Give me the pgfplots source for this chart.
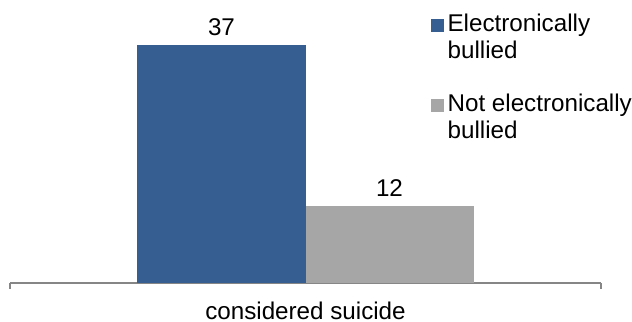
\documentclass[border=0pt]{standalone}
\usepackage{pgfplots}
\pgfplotsset{compat=1.18}
\usepackage{fontspec}
\setmainfont{Liberation Sans}
\definecolor{cblue}{HTML}{365E91}
\definecolor{cgray}{HTML}{A6A6A6}
\definecolor{axgray}{HTML}{868686}
\begin{document}
\begin{tikzpicture}
\begin{axis}[
  scale only axis,
  width=295.5pt, height=141.5pt,
  xmin=-1, xmax=1, ymin=0, ymax=44,
  ybar=0pt, bar width=84pt,
  axis x line*=bottom,
  axis y line=none,
  x axis line style={draw=axgray, line width=0.8pt},
  xtick={-1,1}, xticklabels={},
  major tick length=3pt, tick align=outside,
  xtick style={draw=axgray, line width=0.8pt},
  extra x ticks={0},
  extra x tick labels={considered suicide},
  extra x tick style={major tick length=0pt, tick style={draw=none}},
  xticklabel style={font=\fontsize{12.1}{13.5}\selectfont, yshift=-6pt},
  nodes near coords,
  every node near coord/.append style={font=\fontsize{12.1}{13.5}\selectfont, black, yshift=1pt},
  /pgf/number format/assume math mode=true,
  legend style={at={(rel axis cs:0.711,1)}, anchor=north west, yshift=-5pt, draw=none, fill=none,
    font=\fontsize{12.1}{13.5}\selectfont, cells={align=left, anchor=west},
    row sep=12pt, inner sep=0pt},
  legend image code/.code={\fill[#1] (0pt,3pt) rectangle (6.5pt,9.5pt);},
  clip=false,
]
\addplot[fill=cblue, draw=none] coordinates {(0,37)};
\addplot[fill=cgray, draw=none] coordinates {(0,12)};
\legend{Electronically\\bullied, Not electronically\\bullied}
\coordinate (bl) at (rel axis cs:0,0);
\coordinate (tr) at (rel axis cs:1,1);
\end{axis}
\pgfresetboundingbox
\path[use as bounding box] ([xshift=-5pt,yshift=-19.5pt]bl) rectangle ([xshift=15.5pt]tr);
\end{tikzpicture}
\end{document}
